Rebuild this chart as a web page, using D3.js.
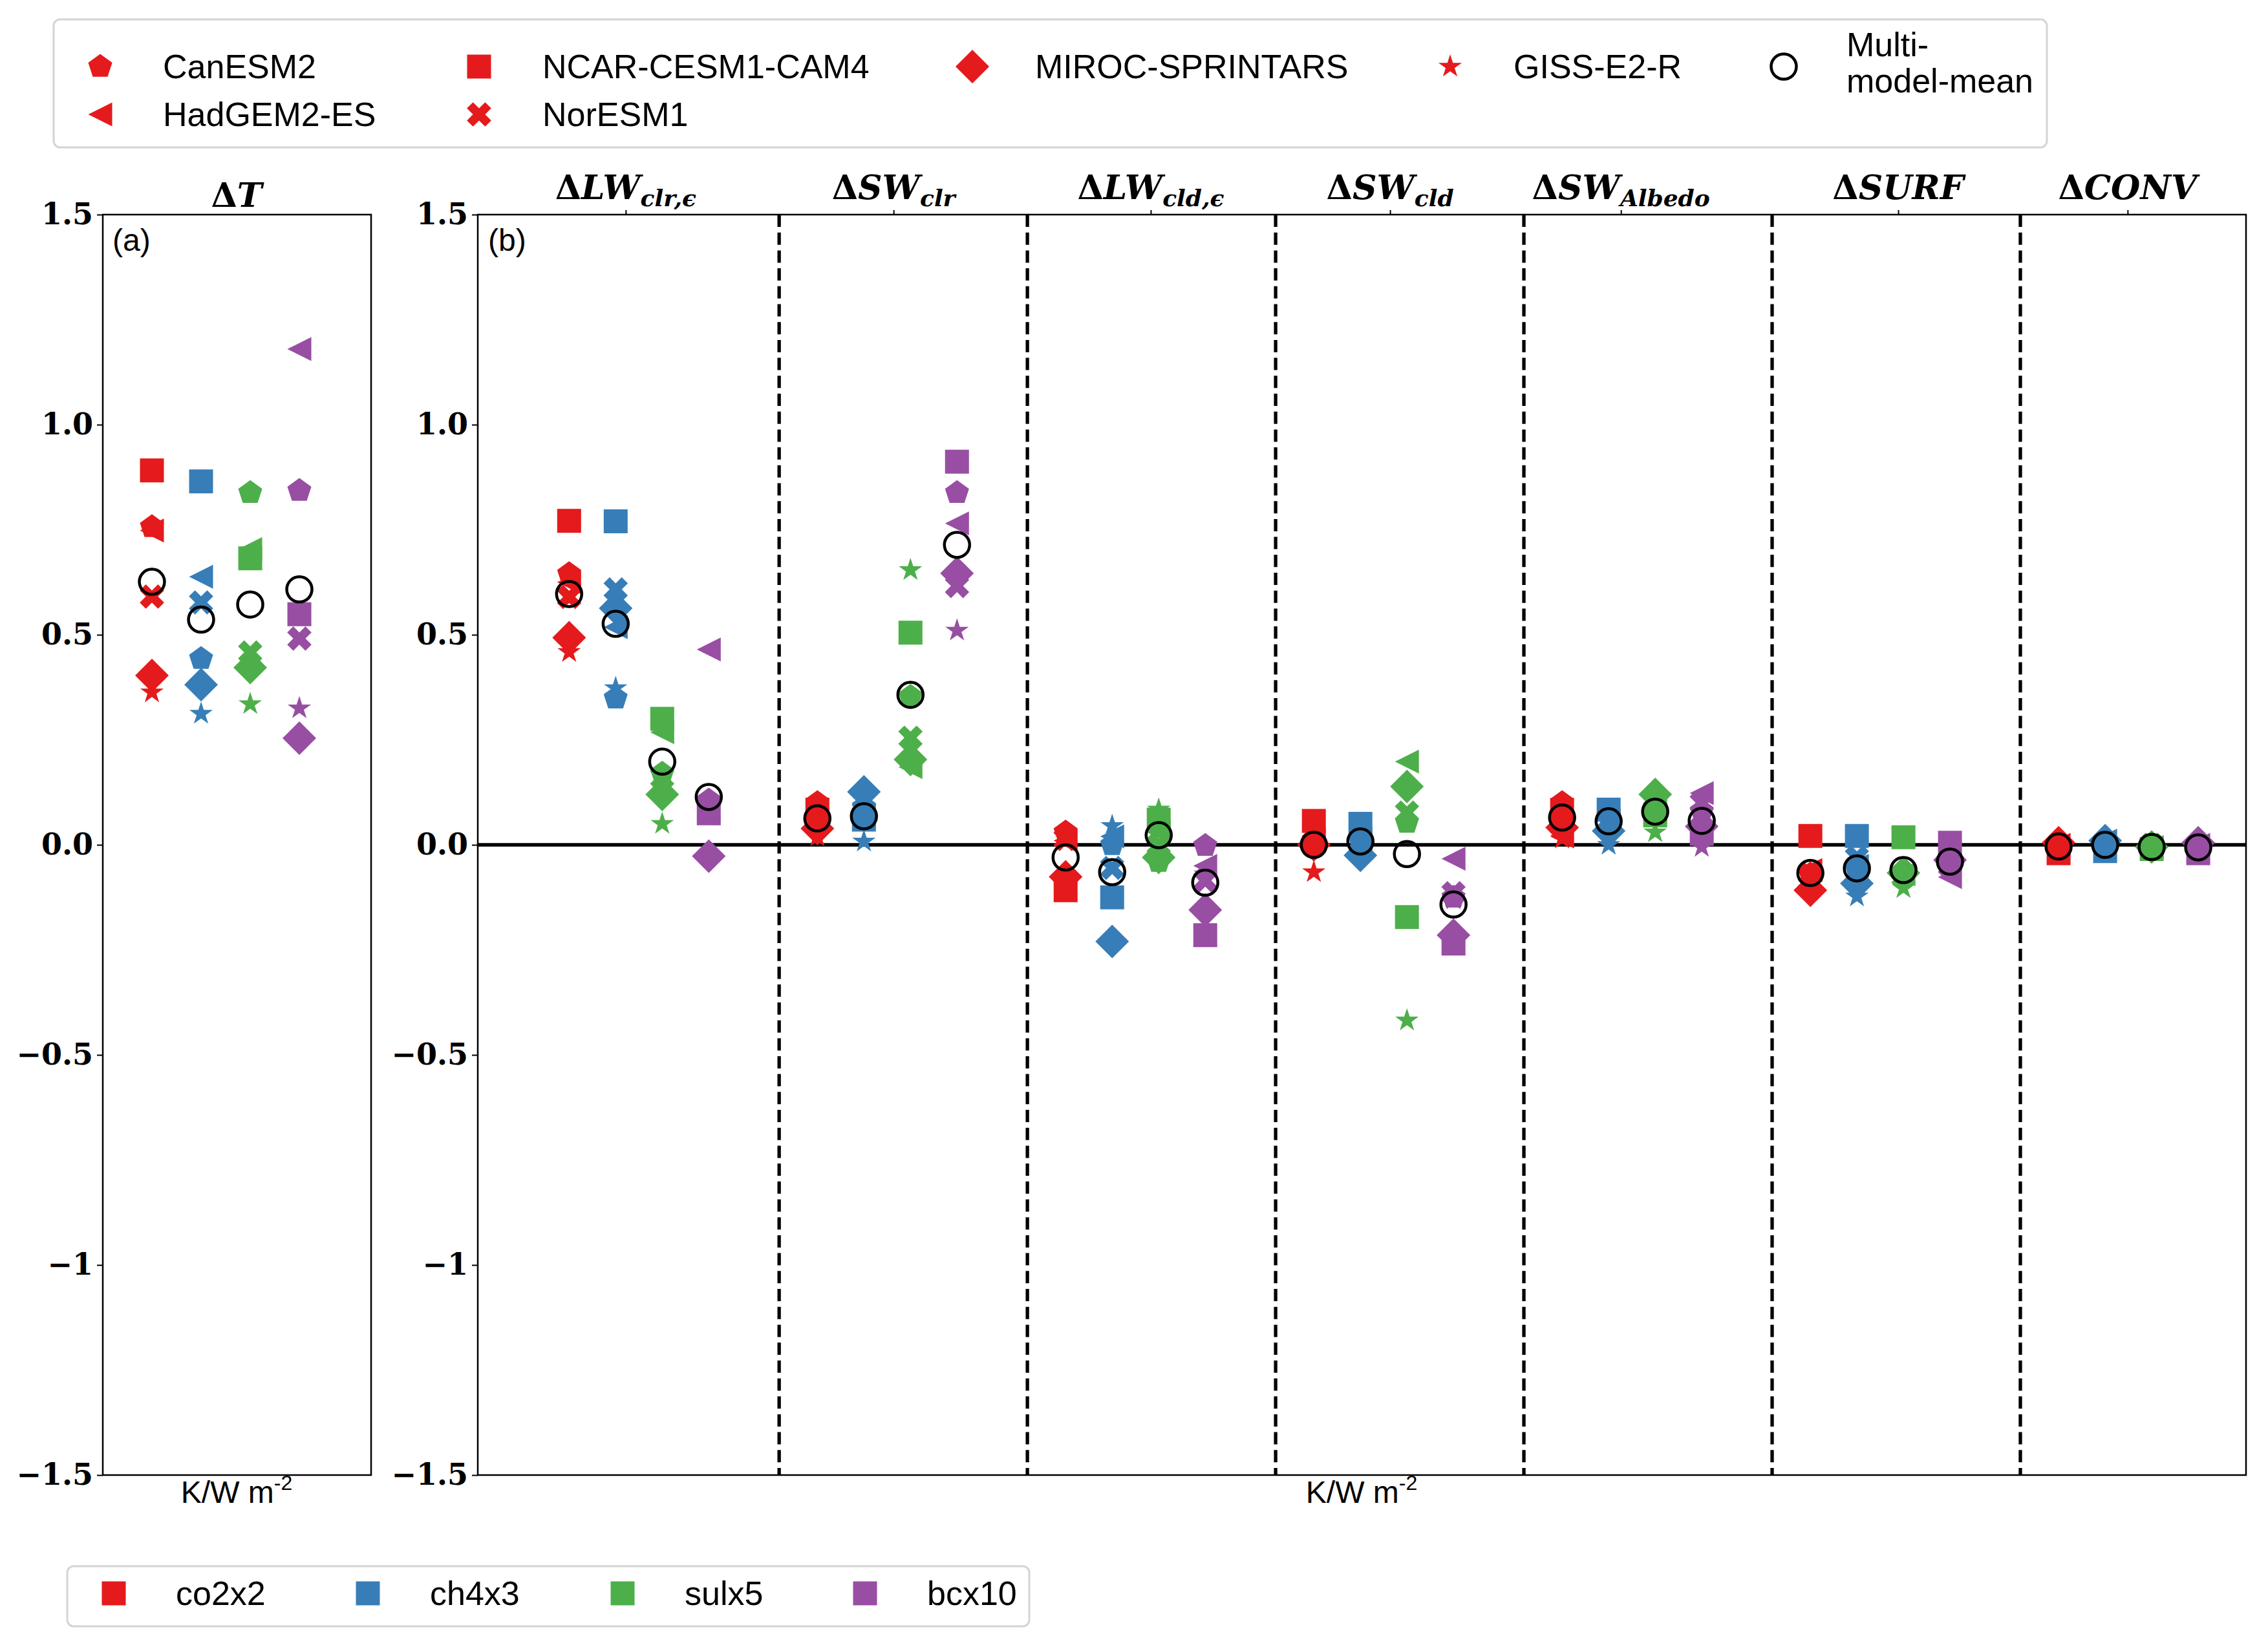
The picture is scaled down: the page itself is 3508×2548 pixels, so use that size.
<!DOCTYPE html>
<meta charset="utf-8">
<style type="text/css">
body {
    margin: 0;
    background: #fff;
}

text {
    font-family: 'Liberation Sans', Arial, sans-serif;
}

.tick text {
    font-family: 'DejaVu Serif', serif;
    font-weight: bold;
    font-size: 46px;
}
</style>

<body>
    <script src="https://d3js.org/d3.v7.min.js"></script>
    <script>
    var experiments = ['co2x2', 'ch4x3', 'sulx5', 'bcx10']
    var colours = ['#e41a1c', '#377eb8', '#4daf4a', '#984ea3']
    var models = ['CanESM2', 'HadGEM2-ES', 'NCAR-CESM1-CAM4', 'NorESM1', 'MIROC-SPRINTARS', 'GISS-E2-R']
    var modelShapes = ['pentagon', 'triangle', 'square', 'x', 'diamond', 'star']

    // rows: dT, LWclr, SWclr, LWcld, SWcld, SWalbedo, SURF, CONV -- columns follow experiments
    var canesm2 = [
        [0.757, 0.443, 0.838, 0.843],
        [0.645, 0.349, 0.17, 0.106],
        [0.10, 0.09, 0.353, 0.838],
        [0.03, 0.0, -0.04, -0.002],
        [0.0, 0.01, 0.053, -0.125],
        [0.10, 0.07, 0.11, 0.08],
        [-0.07, -0.06, -0.065, -0.04],
        [0.005, 0.005, 0.0, 0.005]
    ]
    var hadgem2 = [
        [0.748, 0.638, 0.704, 1.18],
        [0.625, 0.518, 0.268, 0.465],
        [0.06, 0.07, 0.185, 0.765],
        [0.01, 0.02, 0.03, -0.05],
        [0.01, 0.014, 0.198, -0.033],
        [0.02, 0.06, 0.08, 0.123],
        [-0.06, -0.05, -0.07, -0.077],
        [0.0, 0.01, -0.005, 0.0]
    ]
    var ncar = [
        [0.891, 0.865, 0.682, 0.549],
        [0.771, 0.770, 0.300, 0.075],
        [0.084, 0.06, 0.505, 0.912],
        [-0.108, -0.125, 0.06, -0.215],
        [0.057, 0.05, -0.172, -0.235],
        [0.083, 0.084, 0.07, 0.026],
        [0.021, 0.021, 0.018, 0.005],
        [-0.02, -0.015, -0.01, -0.02]
    ]
    var noresm1 = [
        [0.591, 0.577, 0.458, 0.491],
        [0.59, 0.608, 0.16, 0.08],
        [0.06, 0.08, 0.255, 0.616],
        [0.014, -0.055, 0.0, -0.085],
        [0.006, 0.01, 0.077, -0.115],
        [0.045, 0.05, 0.085, 0.10],
        [-0.07, -0.03, -0.075, -0.05],
        [0.0, 0.0, 0.0, 0.0]
    ]
    var miroc = [
        [0.403, 0.381, 0.422, 0.254],
        [0.493, 0.563, 0.12, -0.027],
        [0.039, 0.126, 0.203, 0.646],
        [-0.076, -0.23, -0.03, -0.155],
        [0.0, -0.025, 0.139, -0.215],
        [0.041, 0.033, 0.12, 0.044],
        [-0.108, -0.092, -0.067, -0.036],
        [0.005, 0.01, -0.005, 0.005]
    ]
    var giss = [
        [0.363, 0.312, 0.335, 0.325],
        [0.459, 0.373, 0.05, 0.07],
        [0.02, 0.008, 0.654, 0.510],
        [0.02, 0.045, 0.084, -0.07],
        [-0.065, 0.0, -0.418, -0.13],
        [0.015, 0.0, 0.03, -0.005],
        [-0.09, -0.123, -0.103, -0.06],
        [0.0, 0.0, 0.0, -0.005]
    ]
    var multiModelMean = [
        [0.626, 0.536, 0.572, 0.608],
        [0.597, 0.526, 0.198, 0.114],
        [0.063, 0.068, 0.357, 0.714],
        [-0.03, -0.065, 0.023, -0.09],
        [0.0, 0.008, -0.022, -0.142],
        [0.065, 0.056, 0.079, 0.057],
        [-0.067, -0.056, -0.06, -0.04],
        [-0.004, 0.0, -0.005, -0.006]
    ]
    var modelValues = [canesm2, hadgem2, ncar, noresm1, miroc, giss]

    // panel (b) terms: [base, subscript]
    var terms = [['LW', 'clr,\u03f5'], ['SW', 'clr'], ['LW', 'cld,\u03f5'], ['SW', 'cld'], ['SW', 'Albedo'], ['SURF', ''], ['CONV', '']]
    var termTicks = [0.228, 1.307, 2.343, 3.307, 4.237, 5.354, 6.278]
    var yTicks = [1.5, 1.0, 0.5, 0.0, -0.5, -1, -1.5]
    var yTickLabels = ['1.5', '1.0', '0.5', '0.0', '\u22120.5', '\u22121', '\u22121.5']
    var expStep = 0.1875

    var width = 3508
    var height = 2548

    var svg = d3.select('body').append('svg')
        .attr('width', width)
        .attr('height', height)

    svg.append('rect').attr('width', width).attr('height', height).attr('fill', '#fff')

    function poly(points) {
        return {
            draw: function (ctx) {
                points.forEach(function (p, i) { i ? ctx.lineTo(p[0], p[1]) : ctx.moveTo(p[0], p[1]) })
                ctx.closePath()
            }
        }
    }

    function regular(n, R, r) {
        var pts = []
        var k = r ? 2 * n : n
        for (var i = 0; i < k; i++) {
            var a = -Math.PI / 2 + i * 2 * Math.PI / k
            var rad = (r && i % 2) ? r : R
            pts.push([rad * Math.cos(a), rad * Math.sin(a)])
        }
        return pts
    }

    var plus = [[-1, -3], [1, -3], [1, -1], [3, -1], [3, 1], [1, 1], [1, 3], [-1, 3], [-1, 1], [-3, 1], [-3, -1], [-1, -1]]
    var shapeTypes = {
        pentagon: poly(regular(5, 19.5)),
        triangle: poly([[-18.5, 0], [18.5, -18.5], [18.5, 18.5]]),
        square: poly([[-18.5, -18.5], [18.5, -18.5], [18.5, 18.5], [-18.5, 18.5]]),
        x: poly(plus.map(function (p) {
            var s = 6.65 / Math.SQRT2
            return [(p[0] - p[1]) * s, (p[0] + p[1]) * s]
        })),
        diamond: poly([[0, -26], [26, 0], [0, 26], [-26, 0]]),
        star: poly(regular(5, 19, 19 * 0.382))
    }
    var circlePath = d3.symbol().type(d3.symbolCircle).size(Math.PI * 19.5 * 19.5)()

    function shapePath(name) {
        return d3.symbol().type(shapeTypes[name])()
    }

    var yTop = 332, yBottom = 2282
    var y = d3.scaleLinear().domain([-1.5, 1.5]).range([yBottom, yTop])

    var xa = d3.scaleLinear().domain([-1, 4.46]).range([159, 574])
    var xb = d3.scaleLinear().domain([-0.368, 6.755]).range([739, 3474])

    function yAxis(g) {
        g.call(d3.axisLeft(y).tickValues(yTicks).tickFormat(function (d, i) { return yTickLabels[i] })
            .tickSize(9).tickPadding(6))
        g.select('.domain').remove()
        g.selectAll('.tick line').attr('stroke-width', 2)
    }

    // panel (a)
    var pa = svg.append('g')
    pa.append('g').attr('transform', 'translate(159,0)').call(yAxis)

    var pointsA = []
    modelValues.forEach(function (rows, m) {
        experiments.forEach(function (e, j) {
            pointsA.push({ x: j, v: rows[0][j], shape: modelShapes[m], colour: colours[j] })
        })
    })
    pa.selectAll('.mark').data(pointsA).enter().append('path')
        .attr('class', 'mark')
        .attr('d', function (d) { return shapePath(d.shape) })
        .attr('fill', function (d) { return d.colour })
        .attr('transform', function (d) { return 'translate(' + xa(d.x) + ',' + y(d.v) + ')' })
    pa.selectAll('.mean').data(multiModelMean[0]).enter().append('path')
        .attr('class', 'mean')
        .attr('d', circlePath)
        .attr('fill', 'none').attr('stroke', '#000').attr('stroke-width', 4.5)
        .attr('transform', function (d, j) { return 'translate(' + xa(j) + ',' + y(d) + ')' })

    pa.append('rect')
        .attr('x', 159).attr('y', yTop).attr('width', 574 - 159).attr('height', yBottom - yTop)
        .attr('fill', 'none').attr('stroke', '#000').attr('stroke-width', 2.5)

    var titleA = pa.append('text').attr('x', 366).attr('y', 320).attr('text-anchor', 'middle')
        .style('font-family', "'DejaVu Serif', serif").style('font-weight', 'bold').style('font-size', '52px')
    titleA.append('tspan').text('\u0394')
    titleA.append('tspan').style('font-style', 'italic').text('T')

    pa.append('text').attr('x', 174).attr('y', 388).style('font-size', '48px').text('(a)')

    // panel (b)
    var pb = svg.append('g')
    pb.append('g').attr('transform', 'translate(739,0)').call(yAxis)

    pb.append('g').attr('transform', 'translate(0,' + yTop + ')')
        .call(d3.axisTop(xb).tickValues(termTicks).tickFormat('').tickSize(7))
        .call(function (g) {
            g.select('.domain').remove()
            g.selectAll('.tick line').attr('stroke-width', 2)
        })

    pb.selectAll('.divider').data(d3.range(6).map(function (i) { return i + 0.846 })).enter().append('line')
        .attr('class', 'divider')
        .attr('x1', function (d) { return xb(d) }).attr('x2', function (d) { return xb(d) })
        .attr('y1', yTop).attr('y2', yBottom)
        .attr('stroke', '#000').attr('stroke-width', 5.3).attr('stroke-dasharray', '19 8.7')

    pb.append('line')
        .attr('x1', 739).attr('x2', 3474).attr('y1', y(0)).attr('y2', y(0))
        .attr('stroke', '#000').attr('stroke-width', 5.3)

    var pointsB = []
    modelValues.forEach(function (rows, m) {
        terms.forEach(function (t, i) {
            experiments.forEach(function (e, j) {
                pointsB.push({ x: i + j * expStep, v: rows[i + 1][j], shape: modelShapes[m], colour: colours[j] })
            })
        })
    })
    pb.selectAll('.mark').data(pointsB).enter().append('path')
        .attr('class', 'mark')
        .attr('d', function (d) { return shapePath(d.shape) })
        .attr('fill', function (d) { return d.colour })
        .attr('transform', function (d) { return 'translate(' + xb(d.x) + ',' + y(d.v) + ')' })

    var meansB = []
    terms.forEach(function (t, i) {
        experiments.forEach(function (e, j) {
            meansB.push({ x: i + j * expStep, v: multiModelMean[i + 1][j] })
        })
    })
    pb.selectAll('.mean').data(meansB).enter().append('path')
        .attr('class', 'mean')
        .attr('d', circlePath)
        .attr('fill', 'none').attr('stroke', '#000').attr('stroke-width', 4.5)
        .attr('transform', function (d) { return 'translate(' + xb(d.x) + ',' + y(d.v) + ')' })

    pb.append('rect')
        .attr('x', 739).attr('y', yTop).attr('width', 3474 - 739).attr('height', yBottom - yTop)
        .attr('fill', 'none').attr('stroke', '#000').attr('stroke-width', 2.5)

    var titles = pb.selectAll('.term').data(terms).enter().append('text')
        .attr('class', 'term')
        .attr('x', function (d, i) { return xb(termTicks[i]) })
        .attr('y', 308)
        .attr('text-anchor', 'middle')
        .style('font-family', "'DejaVu Serif', serif").style('font-weight', 'bold').style('font-size', '52px')
    titles.append('tspan').text('\u0394')
    titles.append('tspan').style('font-style', 'italic').text(function (d) { return d[0] })
    titles.append('tspan').style('font-style', 'italic').style('font-size', '36px').attr('dy', 11)
        .text(function (d) { return d[1] })

    pb.append('text').attr('x', 755).attr('y', 388).style('font-size', '48px').text('(b)')

    // x labels
    svg.selectAll('.xlabel').data([366, 2106]).enter().append('text')
        .attr('class', 'xlabel')
        .attr('x', function (d) { return d }).attr('y', 2325)
        .attr('text-anchor', 'middle')
        .style('font-size', '48px')
        .call(function (t) {
            t.append('tspan').text('K/W m')
            t.append('tspan').style('font-size', '32px').attr('dy', -20).text('-2')
        })

    // model legend
    var lg = svg.append('g')
    lg.append('rect').attr('x', 83).attr('y', 30).attr('width', 3083).attr('height', 198).attr('rx', 10)
        .attr('fill', '#fff').attr('stroke', '#d4d4d4').attr('stroke-width', 3)
    var legendCols = [[155, 252], [741, 839], [1504, 1601], [2243, 2341]]
    var legendRows = [103, 177]
    var legendSlots = [[0, 0], [0, 1], [1, 0], [1, 1], [2, 0], [3, 0]]
    models.forEach(function (name, m) {
        var c = legendCols[legendSlots[m][0]], r = legendRows[legendSlots[m][1]]
        lg.append('path').attr('d', shapePath(modelShapes[m])).attr('fill', colours[0])
            .attr('transform', 'translate(' + c[0] + ',' + r + ')')
        lg.append('text').attr('x', c[1]).attr('y', r + 18).style('font-size', '52px').text(name)
    })
    lg.append('path').attr('d', circlePath).attr('fill', 'none').attr('stroke', '#000').attr('stroke-width', 4.5)
        .attr('transform', 'translate(2759,103)')
    lg.append('text').attr('x', 2856).attr('y', 87).style('font-size', '52px').text('Multi-')
    lg.append('text').attr('x', 2856).attr('y', 143).style('font-size', '52px').text('model-mean')

    // experiment legend
    var le = svg.append('g')
    le.append('rect').attr('x', 104).attr('y', 2423).attr('width', 1488).attr('height', 93).attr('rx', 10)
        .attr('fill', '#fff').attr('stroke', '#d4d4d4').attr('stroke-width', 3)
    var expCols = [176, 569, 963, 1338]
    experiments.forEach(function (e, j) {
        le.append('path').attr('d', shapePath('square')).attr('fill', colours[j])
            .attr('transform', 'translate(' + expCols[j] + ',2465)')
        le.append('text').attr('x', expCols[j] + 96).attr('y', 2483).style('font-size', '52px').text(e)
    })
    </script>
